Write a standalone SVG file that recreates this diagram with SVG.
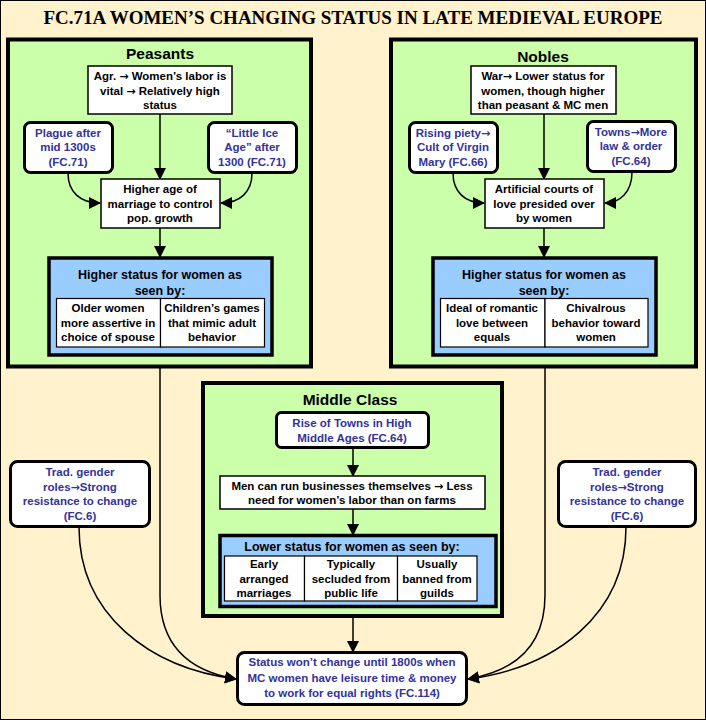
<svg xmlns="http://www.w3.org/2000/svg" width="706" height="720" viewBox="0 0 706 720">
<defs>
<marker id="ah" markerUnits="userSpaceOnUse" markerWidth="12" markerHeight="12" viewBox="0 0 12 12" refX="11" refY="6" orient="auto">
<path d="M0,0 L12,6 L0,12 z" fill="#000"/>
</marker>
<style>
.grp{fill:#CCFFAA;stroke:#000;stroke-width:4}
.box{fill:#fff;stroke:#000;stroke-width:1.5}
.rbox{fill:#fff;stroke:#000;stroke-width:3}
.blue{fill:#99CCFF;stroke:#000;stroke-width:3.5}
.cell{fill:#fff;stroke:#000;stroke-width:1.2}
.t{font-family:"Liberation Sans",Arial,sans-serif;font-weight:bold;font-size:11.5px;text-anchor:middle;fill:#000}
.b{font-family:"Liberation Sans",Arial,sans-serif;font-weight:bold;font-size:11.5px;text-anchor:middle;fill:#333399}
.h{font-family:"Liberation Sans",Arial,sans-serif;font-weight:bold;font-size:15.5px;text-anchor:middle;fill:#000}
.bh{font-family:"Liberation Sans",Arial,sans-serif;font-weight:bold;font-size:12.5px;text-anchor:middle;fill:#000}
.ar{font-family:"DejaVu Sans",sans-serif;font-weight:bold;font-size:11px}
.c{fill:none;stroke:#000;stroke-width:1.5;marker-end:url(#ah)}
.l{fill:none;stroke:#000;stroke-width:1.5}
</style>
</defs>
<rect x="0.5" y="0.5" width="705" height="719" fill="#FFF2CC" stroke="#000" stroke-width="1"/>
<text x="353" y="24" style="font-family:'Liberation Serif','Times New Roman',serif;font-weight:bold;font-size:19px;text-anchor:middle">FC.71A WOMEN’S CHANGING STATUS IN LATE MEDIEVAL EUROPE</text>

<g id="peasants">
<rect class="grp" x="8" y="39.5" width="303" height="327"/>
<text class="h" x="160" y="59">Peasants</text>
</g>
<g id="nobles">
<rect class="grp" x="391" y="39.5" width="305" height="327"/>
<text class="h" x="543" y="62">Nobles</text>
</g>
<g id="middleclass">
<rect class="grp" x="203" y="383" width="299" height="233"/>
<text class="h" x="350" y="405">Middle Class</text>
</g>

<g id="connectors">
<path class="c" d="M160,114 L160,179"/>
<path class="c" d="M68,173 C68,192 80,203 100,203"/>
<path class="c" d="M252,173 C252,192 240,203 221,203"/>
<path class="c" d="M160,228 L160,257"/>
<path class="c" d="M544,114 L544,179"/>
<path class="c" d="M453,173 C453,192 465,203 484,203"/>
<path class="c" d="M632,172 C632,192 620,203 605,203"/>
<path class="c" d="M544,228 L544,257"/>
<path class="c" d="M353,448 L353,476"/>
<path class="c" d="M353,509 L353,535"/>
<path class="c" d="M353,616 L353,652"/>
<path class="c" d="M160,368 L160,595 C160,650 195,672 236,679"/>
<path class="c" d="M79,527 C79,615 150,668 236,679"/>
<path class="c" d="M545,368 L545,595 C545,650 510,672 468,679"/>
<path class="c" d="M626,527 C626,615 555,668 468,679"/>
</g>

<g id="agr">
<rect class="box" x="88" y="66" width="144" height="48"/>
<text class="t" x="160" y="80">Agr. <tspan class="ar">→</tspan> Women’s labor is</text>
<text class="t" x="160" y="95">vital <tspan class="ar">→</tspan> Relatively high</text>
<text class="t" x="160" y="109">status</text>
</g>
<g id="plague">
<rect class="rbox" x="24.5" y="122.5" width="88" height="50" rx="6"/>
<text class="b" x="68" y="137">Plague after</text>
<text class="b" x="68" y="151">mid 1300s</text>
<text class="b" x="68" y="166">(FC.71)</text>
</g>
<g id="iceage">
<rect class="rbox" x="208.5" y="122.5" width="88" height="50" rx="6"/>
<text class="b" x="252" y="137">“Little Ice</text>
<text class="b" x="252" y="151">Age” after</text>
<text class="b" x="252" y="166">1300 (FC.71)</text>
</g>
<g id="marriage">
<rect class="box" x="101" y="179" width="119" height="49"/>
<text class="t" x="160" y="193">Higher age of</text>
<text class="t" x="160" y="208">marriage to control</text>
<text class="t" x="160" y="222">pop. growth</text>
</g>
<g id="peasantstatus">
<rect class="blue" x="49" y="258" width="223" height="97"/>
<text class="bh" x="160" y="279">Higher status for women as</text>
<text class="bh" x="160" y="295">seen by:</text>
<rect class="cell" x="56.5" y="298.5" width="104" height="48.5"/>
<rect class="cell" x="160.5" y="298.5" width="104" height="48.5"/>
<text class="t" x="108" y="312">Older women</text>
<text class="t" x="108" y="327">more assertive in</text>
<text class="t" x="108" y="341">choice of spouse</text>
<text class="t" x="212" y="312">Children’s games</text>
<text class="t" x="212" y="327">that mimic adult</text>
<text class="t" x="212" y="341">behavior</text>
</g>

<g id="war">
<rect class="box" x="471" y="66" width="145" height="48"/>
<text class="t" x="543" y="80">War<tspan class="ar">→</tspan> Lower status for</text>
<text class="t" x="543" y="95">women, though higher</text>
<text class="t" x="543" y="109">than peasant &amp; MC men</text>
</g>
<g id="piety">
<rect class="rbox" x="409.5" y="122.5" width="88" height="50" rx="6"/>
<text class="b" x="453" y="137">Rising piety<tspan class="ar">→</tspan></text>
<text class="b" x="453" y="151">Cult of Virgin</text>
<text class="b" x="453" y="166">Mary (FC.66)</text>
</g>
<g id="towns">
<rect class="rbox" x="587.5" y="121.5" width="88" height="50" rx="6"/>
<text class="b" x="631" y="136">Towns<tspan class="ar">→</tspan>More</text>
<text class="b" x="631" y="150">law &amp; order</text>
<text class="b" x="631" y="165">(FC.64)</text>
</g>
<g id="courts">
<rect class="box" x="485" y="179" width="119" height="49"/>
<text class="t" x="544" y="193">Artificial courts of</text>
<text class="t" x="544" y="208">love presided over</text>
<text class="t" x="544" y="222">by women</text>
</g>
<g id="noblestatus">
<rect class="blue" x="433" y="258" width="223" height="97"/>
<text class="bh" x="544" y="279">Higher status for women as</text>
<text class="bh" x="544" y="295">seen by:</text>
<rect class="cell" x="440.5" y="298.5" width="104.5" height="48.5"/>
<rect class="cell" x="545" y="298.5" width="103" height="48.5"/>
<text class="t" x="492" y="312">Ideal of romantic</text>
<text class="t" x="492" y="327">love between</text>
<text class="t" x="492" y="341">equals</text>
<text class="t" x="596" y="312">Chivalrous</text>
<text class="t" x="596" y="327">behavior toward</text>
<text class="t" x="596" y="341">women</text>
</g>

<g id="risetowns">
<rect class="rbox" x="276.5" y="412.5" width="152" height="35" rx="5"/>
<text class="b" x="352" y="427">Rise of Towns in High</text>
<text class="b" x="352" y="442">Middle Ages (FC.64)</text>
</g>
<g id="mencan">
<rect class="box" x="220" y="476" width="265" height="33"/>
<text class="t" x="352" y="490">Men can run businesses themselves <tspan class="ar">→</tspan> Less</text>
<text class="t" x="352" y="504">need for women’s labor than on farms</text>
</g>
<g id="mcstatus">
<rect class="blue" x="220" y="535.5" width="276" height="71"/>
<text class="bh" x="352" y="551">Lower status for women as seen by:</text>
<rect class="cell" x="224.5" y="556" width="80" height="45"/>
<rect class="cell" x="304.5" y="556" width="93" height="45"/>
<rect class="cell" x="397.5" y="556" width="79.5" height="45"/>
<text class="t" x="264" y="568">Early</text>
<text class="t" x="264" y="583">arranged</text>
<text class="t" x="264" y="597">marriages</text>
<text class="t" x="351" y="568">Typically</text>
<text class="t" x="351" y="583">secluded from</text>
<text class="t" x="351" y="597">public life</text>
<text class="t" x="437" y="568">Usually</text>
<text class="t" x="437" y="583">banned from</text>
<text class="t" x="437" y="597">guilds</text>
</g>

<g id="tradleft">
<rect class="rbox" x="10.5" y="461.5" width="139" height="65" rx="7"/>
<text class="b" x="80" y="476">Trad. gender</text>
<text class="b" x="80" y="491">roles<tspan class="ar">→</tspan>Strong</text>
<text class="b" x="80" y="505">resistance to change</text>
<text class="b" x="80" y="520">(FC.6)</text>
</g>
<g id="tradright">
<rect class="rbox" x="558.5" y="461.5" width="137" height="65" rx="7"/>
<text class="b" x="627" y="476">Trad. gender</text>
<text class="b" x="627" y="491">roles<tspan class="ar">→</tspan>Strong</text>
<text class="b" x="627" y="505">resistance to change</text>
<text class="b" x="627" y="520">(FC.6)</text>
</g>
<g id="final">
<rect class="rbox" x="237.5" y="652.5" width="229" height="52" rx="7"/>
<text class="b" x="352" y="666">Status won’t change until 1800s when</text>
<text class="b" x="352" y="682">MC women have leisure time &amp; money</text>
<text class="b" x="352" y="697">to work for equal rights (FC.114)</text>
</g>
</svg>
